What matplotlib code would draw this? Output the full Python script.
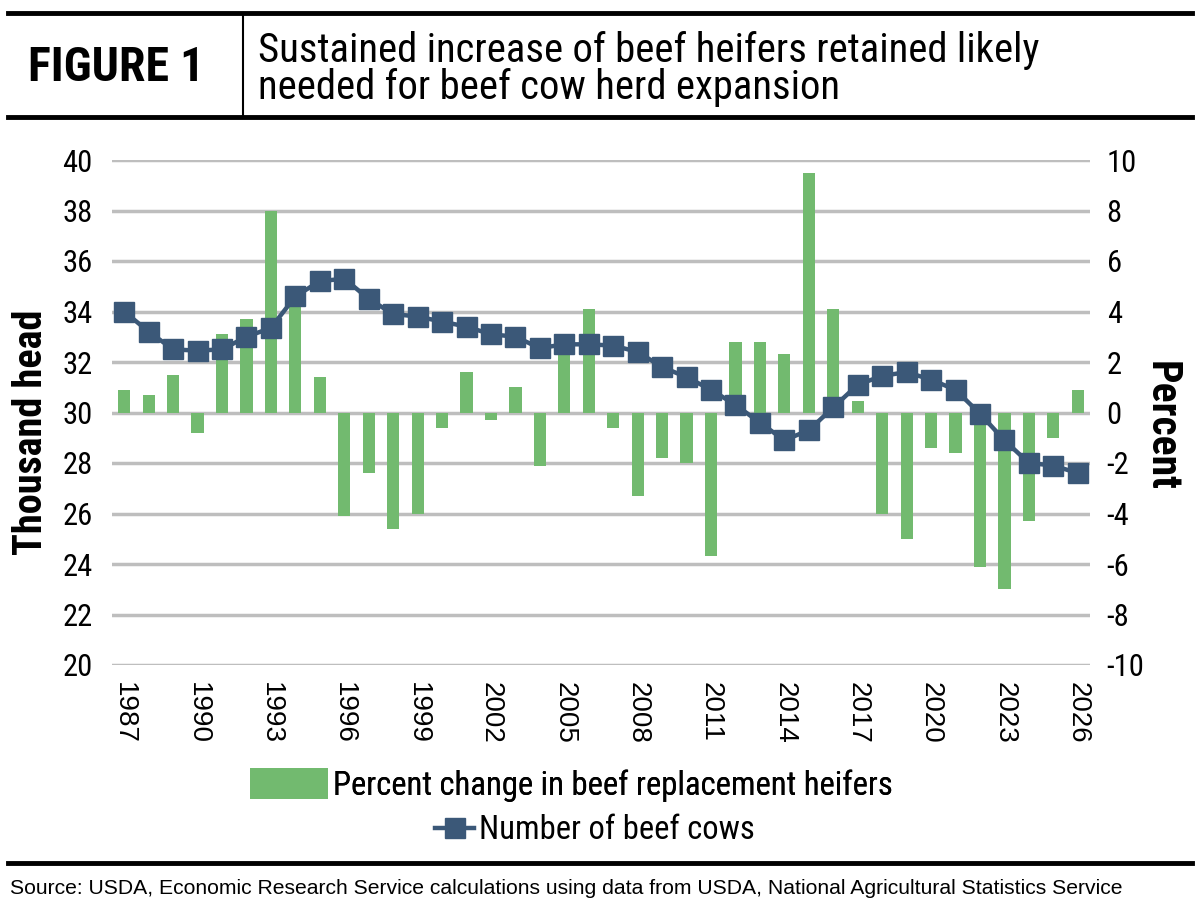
import matplotlib
matplotlib.use("Agg")
import matplotlib.pyplot as plt
from matplotlib import font_manager
from matplotlib.lines import Line2D
from matplotlib.patches import Patch
import numpy as np

years = list(range(1987, 2027))
heifer_pct = [0.9, 0.7, 1.5, -0.8, 3.1, 3.7, 8.0, 4.3, 1.4, -4.1,
              -2.4, -4.6, -4.0, -0.6, 1.6, -0.3, 1.0, -2.1, 2.4, 4.1,
              -0.6, -3.3, -1.8, -2.0, -5.7, 2.8, 2.8, 2.3, 9.5, 4.1,
              0.45, -4.0, -5.0, -1.4, -1.6, -6.1, -7.0, -4.3, -1.0, 0.9]
beef_cows = [34.0, 33.2, 32.5, 32.45, 32.5, 33.0, 33.35, 34.6, 35.2, 35.3,
             34.5, 33.9, 33.8, 33.6, 33.4, 33.1, 33.0, 32.55, 32.7, 32.7,
             32.65, 32.4, 31.8, 31.4, 30.9, 30.3, 29.6, 28.9, 29.3, 30.2,
             31.1, 31.45, 31.6, 31.3, 30.9, 29.95, 28.9, 28.0, 27.9, 27.6]
year_labels = [str(y) if (y - 1987) % 3 == 0 else "" for y in years]
left_ticks = [20, 22, 24, 26, 28, 30, 32, 34, 36, 38, 40]
right_ticks = [-10, -8, -6, -4, -2, 0, 2, 4, 6, 8, 10]

avail = {f.name for f in font_manager.fontManager.ttflist}
def pick(*names):
    for n in names:
        if n in avail:
            return n
    return "DejaVu Sans"

NARROW = pick("Liberation Sans Narrow", "Roboto Condensed", "Open Sans Condensed", "Liberation Sans")
REG = pick("Liberation Sans", "Arial", "DejaVu Sans")

GREEN = "#72BA6F"
BLUE = "#3B5878"
GRID = "#BEBEBE"

fig = plt.figure(figsize=(12, 9.11), dpi=100)

# header rules and title
fig.add_artist(Line2D([0.007, 0.993], [1 - 13/911, 1 - 13/911], color="black", lw=3.5))
fig.add_artist(Line2D([0.007, 0.993], [1 - 117/911, 1 - 117/911], color="black", lw=3.5))
fig.add_artist(Line2D([243/1200, 243/1200], [1 - 115/911, 1 - 15/911], color="black", lw=1.5))
fig.add_artist(Line2D([0.007, 0.993], [1 - 863/911, 1 - 863/911], color="black", lw=3.5))

fig.text(28/1200, 1 - 68/911, "FIGURE 1", fontsize=34.5, fontweight="heavy",
         family=NARROW, ha="left", va="center")
fig.text(258/1200, 1 - 50/911, "Sustained increase of beef heifers retained likely",
         fontsize=29.3, family=NARROW, ha="left", va="center")
fig.text(258/1200, 1 - 87/911, "needed for beef cow herd expansion",
         fontsize=29.3, family=NARROW, ha="left", va="center")
fig.text(10/1200, 1 - 888/911,
         "Source: USDA, Economic Research Service calculations using data from USDA, National Agricultural Statistics Service",
         fontsize=15.25, family=REG, ha="left", va="center")

ax = fig.add_axes([112/1200, 1 - 665/911, (1090 - 112)/1200, (665 - 160)/911])
ax2 = ax.twinx()
x = np.arange(len(years))

# bars on the right (percent) axis, drawn below the line
ax.set_zorder(2)
ax.patch.set_visible(False)
ax2.set_zorder(1)

ax2.bar(x, heifer_pct, width=0.5, color=GREEN, zorder=3)
ax2.set_ylim(-10, 10)
ax2.set_yticks(right_ticks)
ax2.set_yticklabels([str(t) for t in right_ticks], family=NARROW, fontsize=22)
for t in right_ticks:
    ax2.axhline(t, color=GRID, lw=2.5, zorder=1)

ax.plot(x, beef_cows, color=BLUE, lw=3.2, marker="s", markersize=14, zorder=4)
ax.set_ylim(20, 40)
ax.set_yticks(left_ticks)
ax.set_yticklabels([str(t) for t in left_ticks], family=NARROW, fontsize=22)
ax.set_xlim(-0.5, len(years) - 0.5)
ax.set_xticks(x)
ax.set_xticklabels(year_labels, rotation=-90, family=REG, fontsize=20)

for a in (ax, ax2):
    for s in a.spines.values():
        s.set_visible(False)
    a.tick_params(length=0)
ax.tick_params(axis="y", pad=14)
ax2.tick_params(axis="y", pad=12)
ax.tick_params(axis="x", pad=12)

ax.set_ylabel("Thousand head", family=NARROW, fontweight="heavy", fontsize=29)
ax.yaxis.set_label_coords((50 - 112)/978, 0.5 - 20/505)
ax2.set_ylabel("Percent", family=NARROW, fontweight="heavy", fontsize=30, rotation=-90)
ax2.yaxis.set_label_coords((1182 - 112)/978, 0.5 - 13/505)

leg1 = fig.legend(handles=[Patch(facecolor=GREEN)],
                  labels=["Percent change in beef replacement heifers"],
                  loc="center", bbox_to_anchor=(571/1200, 1 - 785/911), frameon=False,
                  prop={"family": NARROW, "size": 23.5}, handlelength=2.4, handleheight=1.1,
                  handletextpad=0.15)
leg2 = fig.legend(handles=[Line2D([], [], color=BLUE, lw=3.2, marker="s", markersize=14)],
                  labels=["Number of beef cows"],
                  loc="center", bbox_to_anchor=(595/1200, 1 - 830/911), frameon=False,
                  prop={"family": NARROW, "size": 23.5}, handlelength=1.2,
                  handletextpad=0.15)
fig.add_artist(leg1)

fig.savefig("out.png", dpi=100)
